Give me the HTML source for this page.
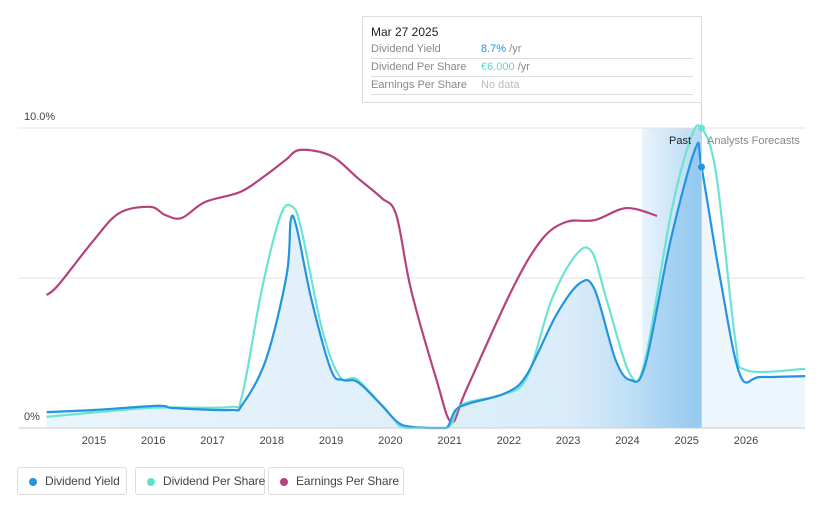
<!DOCTYPE html>
<html><head><meta charset="utf-8"><style>
body{margin:0;background:#fff;font-family:"Liberation Sans",sans-serif;}
#wrap{position:relative;width:821px;height:508px;overflow:hidden}
.tip{position:absolute;left:362px;top:16px;width:338px;height:85px;border:1px solid #ddd;background:#fff;font-size:11px}
.tip .row{position:absolute;left:8px;width:322px;border-bottom:1px solid #ddd;height:17px;line-height:17px;color:#888}
.leg{position:absolute;top:467px;height:28px;border:1px solid #ddd;border-radius:3px;font-size:12px;color:#444;line-height:27px;box-sizing:border-box;padding-left:27px;white-space:nowrap;letter-spacing:-0.1px}
.leg i{position:absolute;left:11px;top:10px;width:8px;height:8px;border-radius:50%}
</style></head><body><div id="wrap">
<svg id="chart" width="821" height="508"></svg>
<div class="tip">
<div style="position:absolute;left:8px;top:8px;font-size:12px;color:#222">Mar 27 2025</div>
<div class="row" style="top:24px">Dividend Yield<span style="position:absolute;left:110px"><span style="color:#2394df">8.7%</span> /yr</span></div>
<div class="row" style="top:42px">Dividend Per Share<span style="position:absolute;left:110px"><span style="color:#5fd9c9">€6.000</span> /yr</span></div>
<div class="row" style="top:60px">Earnings Per Share<span style="position:absolute;left:110px;color:#bbb">No data</span></div>
</div>
<div class="leg" style="left:17px;width:110px"><i style="background:#2394df"></i>Dividend Yield</div>
<div class="leg" style="left:135px;width:130px"><i style="background:#5fe0cf"></i>Dividend Per Share</div>
<div class="leg" style="left:268px;width:136px"><i style="background:#b5427e"></i>Earnings Per Share</div>
</div>
<script>
const xTicks=[2015,2016,2017,2018,2019,2020,2021,2022,2023,2024,2025,2026];
const dyT=[2014.2,2015,2015.95,2016.2,2016.3,2017.3,2017.5,2017.9,2018.25,2018.32,2018.42,2018.67,2019.0,2019.2,2019.45,2019.85,2020.2,2020.7,2020.95,2021.1,2021.35,2021.95,2022.3,2022.8,2023.2,2023.45,2023.8,2024.05,2024.3,2024.73,2025.15,2025.25,2025.57,2025.9,2026.24,2027];
const dyV=[0.53,0.6,0.73,0.73,0.67,0.6,0.77,2.27,5.1,6.93,6.67,4.27,1.93,1.6,1.53,0.77,0.1,0,0,0.6,0.83,1.17,1.77,3.77,4.83,4.6,2.27,1.6,2.1,6.27,9.33,8.7,4.93,1.77,1.7,1.73];
const dpsT=[2014.2,2015.95,2017.3,2017.5,2017.83,2018.15,2018.35,2018.5,2018.85,2019.15,2019.45,2020.0,2020.25,2020.95,2021.2,2021.87,2022.3,2022.72,2023.13,2023.4,2023.65,2024.05,2024.3,2024.73,2025.06,2025.25,2025.5,2025.82,2026,2027];
const dpsV=[0.37,0.67,0.7,1.1,4.6,7.1,7.37,6.6,3.27,1.7,1.6,0.43,0,0,0.77,1.1,1.67,4.27,5.77,5.87,4.27,1.77,2.27,7.1,9.6,10,8.43,2.93,1.93,1.97];
const epsT=[2014.2,2014.4,2015,2015.43,2015.95,2016.2,2016.48,2016.87,2017.47,2017.9,2018.23,2018.48,2019,2019.45,2019.85,2020.1,2020.35,2020.78,2021.03,2021.28,2022.05,2022.55,2022.97,2023.45,2023.98,2024.5];
const epsV=[4.43,4.77,6.27,7.17,7.37,7.1,7.0,7.53,7.87,8.43,8.93,9.27,9.07,8.33,7.67,7.1,4.6,1.6,0.2,1.27,4.6,6.27,6.87,6.93,7.33,7.07];
const yTicks=[0,5,10];
const X=t=>94+(t-2015)*59.27, Y=v=>428-v*30;
const svg=document.getElementById('chart'),NS='http://www.w3.org/2000/svg';
function mk(tag,attrs,name){const e=document.createElementNS(NS,tag);for(const k in attrs)e.setAttribute(k,attrs[k]);


svg.appendChild(e);return e;}
function path(T,V){const p=T.map((t,i)=>[X(t),Y(V[i])]);let d='M'+p[0][0]+','+p[0][1];
for(let i=0;i<p.length-1;i++){const a=p[i-1]||p[i],b=p[i],c=p[i+1],e=p[i+2]||c;
const c1=[b[0]+(c[0]-a[0])/6,b[1]+(c[1]-a[1])/6],c2=[c[0]-(e[0]-b[0])/6,c[1]-(e[1]-b[1])/6];
c1[0]=Math.min(Math.max(c1[0],b[0]),c[0]);c2[0]=Math.min(Math.max(c2[0],b[0]),c[0]);
c1[1]=Math.min(c1[1],428);c2[1]=Math.min(c2[1],428);
d+=' C'+c1+' '+c2+' '+c;}return d;}
const defs=mk('defs',{},'defs');
defs.innerHTML='<linearGradient id="fc" x1="0" x2="1"><stop offset="0" stop-color="#e8f3fc"/><stop offset="1" stop-color="#b5d9f5"/></linearGradient><linearGradient id="ar" x1="0" x2="1"><stop offset="0" stop-color="#e6f2fb"/><stop offset="0.8" stop-color="#d3e9f9"/><stop offset="1" stop-color="#8ec6ef"/></linearGradient>';
mk('rect',{x:X(2024.25),y:128,width:X(2025.25)-X(2024.25),height:300,fill:'url(#fc)'},'forecast-region');
yTicks.forEach(v=>{mk('line',{x1:18,x2:805,y1:Y(v),y2:Y(v),stroke:'#e3e3e3'},'gridline');
const t=mk('text',{x:24,y:Y(v)-8,'font-size':11,fill:'#444'},'y-tick-label');t.textContent=v===0?'0%':v===10?'10.0%':'';});
const cut=dyT.findIndex(t=>t>=2025.25);
const aT=dyT.slice(0,cut+1),aV=dyV.slice(0,cut+1);
mk('path',{d:path(aT,aV)+' L'+X(aT[aT.length-1])+',428 L'+X(aT[0])+',428 Z',fill:'url(#ar)',opacity:0.85},'dividend-yield-area');
mk('path',{d:path(dyT.slice(cut),dyV.slice(cut))+' L805,428 L'+X(2025.25)+',428Z',fill:'#eef6fd'},'forecast-area');
mk('path',{d:path(epsT,epsV),fill:'none',stroke:'#b5427e','stroke-width':2.2},'eps-line');
mk('path',{d:path(dpsT,dpsV),fill:'none',stroke:'#6be3d3','stroke-width':2.2},'dps-line');
mk('path',{d:path(dyT,dyV),fill:'none',stroke:'#2394df','stroke-width':2.2},'dividend-yield-line');
mk('line',{x1:X(2025.25),x2:X(2025.25),y1:100,y2:428,stroke:'#aee0e8'},'hover-line');
mk('circle',{cx:X(2025.25),cy:Y(10),r:3.5,fill:'#6be3d3'},'dps-marker');
mk('circle',{cx:X(2025.25),cy:Y(8.7),r:3.5,fill:'#2394df'},'dy-marker');
mk('line',{x1:18,x2:805,y1:428,y2:428,stroke:'#ccc'},'x-axis');
xTicks.forEach(y=>{const t=mk('text',{x:X(y),y:444,'font-size':11,fill:'#444','text-anchor':'middle'},'x-tick-label');t.textContent=y;});
let t=mk('text',{x:691,y:144,'font-size':11,fill:'#222','text-anchor':'end'},'past-label');t.textContent='Past';
t=mk('text',{x:707,y:144,'font-size':11,fill:'#888'},'forecast-label');t.textContent='Analysts Forecasts';
</script></body></html>
